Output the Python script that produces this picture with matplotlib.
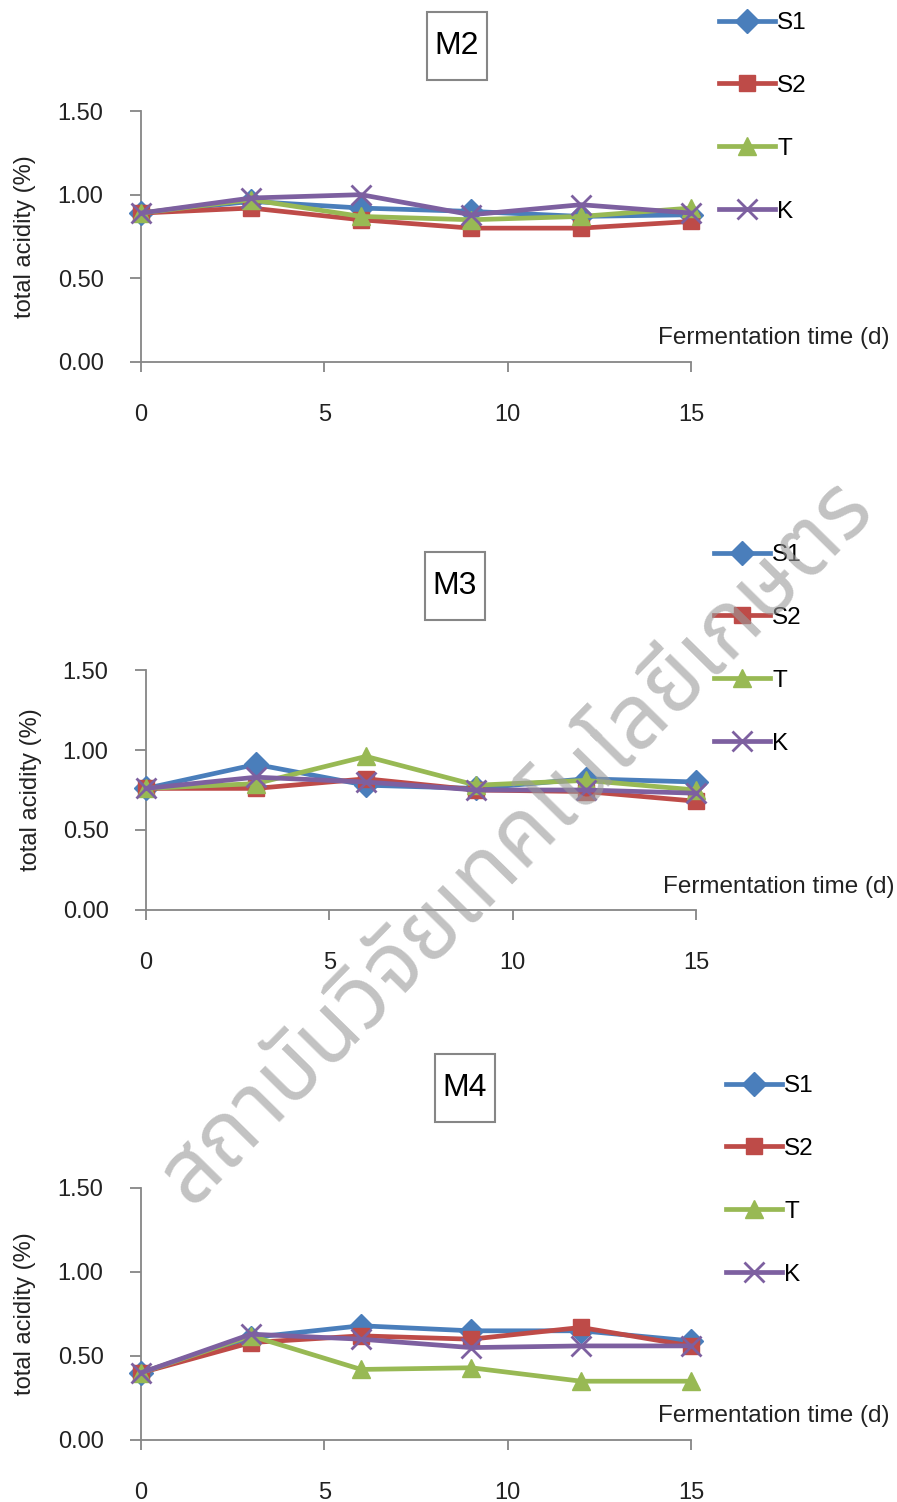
import numpy as np
import matplotlib
matplotlib.use("Agg")
import matplotlib.pyplot as plt
from matplotlib.patches import Rectangle

plt.rcParams['font.family'] = ['Liberation Sans', 'DejaVu Sans']

#------------------data------------------
days = [0, 3, 6, 9, 12, 15]
series_names = ["S1", "S2", "T", "K"]

m2_s1 = [0.89, 0.96, 0.92, 0.90, 0.87, 0.88]
m2_s2 = [0.89, 0.92, 0.85, 0.80, 0.80, 0.84]
m2_t = [0.89, 0.97, 0.87, 0.85, 0.87, 0.92]
m2_k = [0.89, 0.98, 1.00, 0.88, 0.94, 0.89]

m3_s1 = [0.76, 0.91, 0.78, 0.76, 0.82, 0.80]
m3_s2 = [0.76, 0.76, 0.82, 0.75, 0.74, 0.68]
m3_t = [0.76, 0.79, 0.96, 0.78, 0.81, 0.75]
m3_k = [0.76, 0.83, 0.80, 0.75, 0.75, 0.73]

m4_s1 = [0.40, 0.61, 0.68, 0.65, 0.65, 0.59]
m4_s2 = [0.40, 0.58, 0.62, 0.60, 0.67, 0.56]
m4_t = [0.40, 0.62, 0.42, 0.43, 0.35, 0.35]
m4_k = [0.40, 0.63, 0.60, 0.55, 0.56, 0.56]

yticks = [0.0, 0.5, 1.0, 1.5]
xticks = [0, 5, 10, 15]
watermark = "สถาบันวิจัยเทคโนโลยีเกษตร"

#------------------styles------------------
colors = ["#4A7EBB", "#BE4B48", "#98B954", "#7D60A0"]
markers = ["D", "s", "^", "x"]
msizes = [12, 12, 13, 14]
gray = "#868686"
txt = "#222222"
fs = 17

W, H = 897, 1502
fig = plt.figure(figsize=(W / 100, H / 100), dpi=100)


def panel(name, data, x0, x15, y0, y15, title_xy, leg_xy):
    """Draw one panel; pixel coords of axis corners come from the reference."""
    ax = fig.add_axes([x0 / W, 1 - y0 / H, (x15 - x0) / W, (y0 - y15) / H])
    for vals, c, m, ms, lab in zip(data, colors, markers, msizes, series_names):
        ax.plot(days, vals, color=c, lw=3.4, marker=m, ms=ms,
                mew=2 if m == "x" else 1, mec=c, mfc=c, label=lab,
                clip_on=False, zorder=3)
    ax.set_xlim(0, 15)
    ax.set_ylim(0, 1.5)
    ax.set_xticks(xticks)
    ax.set_yticks(yticks)
    ax.set_yticklabels(["%.2f" % v for v in yticks])
    for s in ["top", "right"]:
        ax.spines[s].set_visible(False)
    for s in ["left", "bottom"]:
        ax.spines[s].set_color(gray)
        ax.spines[s].set_linewidth(1.3)
    ax.tick_params(axis="x", direction="out", length=7, width=1.3, color=gray,
                   pad=23, labelsize=fs, labelcolor=txt)
    ax.tick_params(axis="y", direction="out", length=8, width=1.3, color=gray,
                   pad=19, labelsize=fs, labelcolor=txt)
    ax.set_facecolor("none")
    ax.set_ylabel("total acidity (%)", fontsize=fs, color=txt)
    ax.yaxis.set_label_coords(-0.19, 0.5)
    ax.text(1.36, 0.095, "Fermentation time (d)", transform=ax.transAxes,
            ha="right", va="center", fontsize=fs + 0.5, color=txt)

    # title box (taller than wide, as in the reference)
    bw, bh = 60, 68
    fig.patches.append(Rectangle(((title_xy[0] - bw / 2) / W, 1 - (title_xy[1] + bh / 2) / H),
                                 bw / W, bh / H, transform=fig.transFigure,
                                 fc="white", ec=gray, lw=1.5))
    fig.text(title_xy[0] / W, 1 - title_xy[1] / H, name, ha="center", va="center",
             fontsize=23, color="black")

    fig.legend(handles=ax.get_lines(), loc="upper left",
               bbox_to_anchor=(leg_xy[0] / W, 1 - leg_xy[1] / H),
               frameon=False, fontsize=fs + 0.5, handlelength=2.3,
               handletextpad=0.1, labelspacing=1.68, borderpad=0,
               borderaxespad=0)
    return ax


panel("M2", [m2_s1, m2_s2, m2_t, m2_k], 141, 691, 362, 111, (457, 46), (719, 12))
panel("M3", [m3_s1, m3_s2, m3_t, m3_k], 146, 696, 910, 670, (455, 586), (714, 544))
panel("M4", [m4_s1, m4_s2, m4_t, m4_k], 141, 691, 1440, 1188, (465, 1088), (726, 1075))

fig.text(517 / W, 1 - 843 / H, watermark, rotation=45.5, ha="center", va="center",
         fontsize=64, color="#9a9a9a", alpha=0.6,
         family=["Noto Sans Thai", "Noto Sans", "DejaVu Sans"], zorder=10)

fig.savefig("out.png", dpi=100, facecolor="white")
